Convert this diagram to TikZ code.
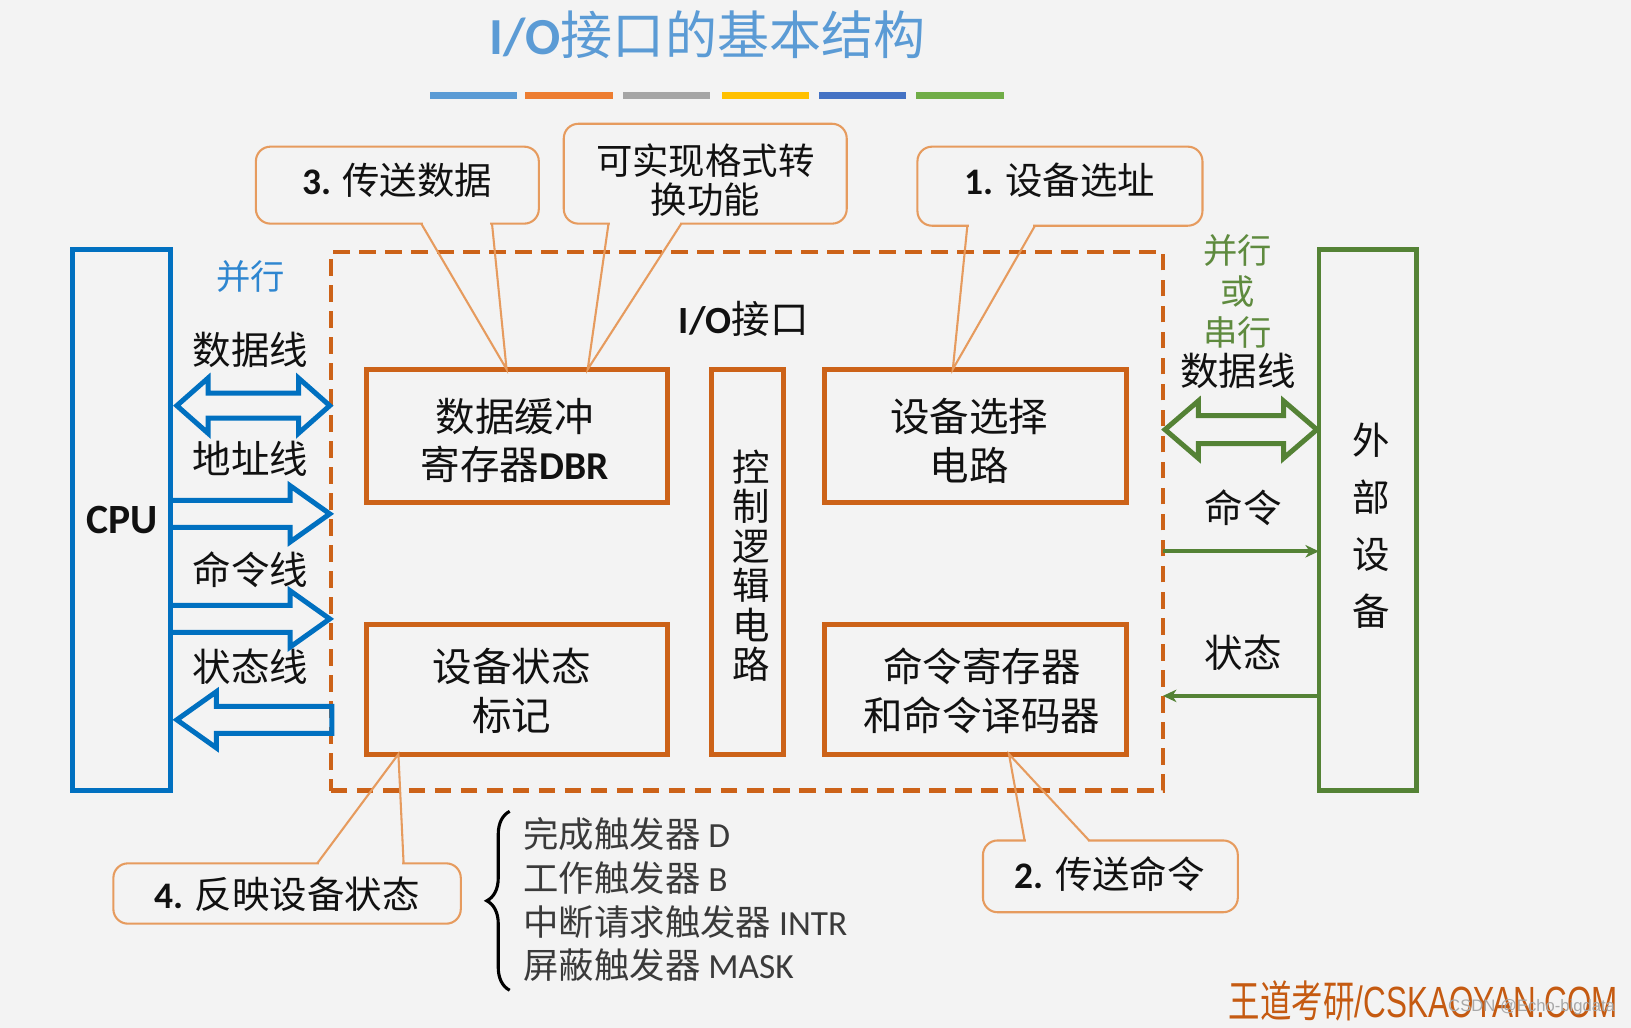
\documentclass[tikz,border=0pt]{standalone}
\usepackage{fontspec}
\setmainfont{Noto Sans CJK SC}
\newfontfamily\lat{Carlito}
\newfontfamily\wmfont[FakeStretch=0.72]{Liberation Sans}
\newfontfamily\wmcjk[FakeStretch=0.72]{Noto Sans CJK SC}
\newfontfamily\csdnfont{Liberation Sans}
\usetikzlibrary{arrows.meta,calc,decorations.pathreplacing}
\newcommand\fsz[2]{\fontsize{#1}{#2}\selectfont}
\definecolor{bgc}{HTML}{F3F3F3}
\definecolor{titlec}{HTML}{5B9BD5}
\definecolor{bar1}{HTML}{5B9BD5}
\definecolor{bar2}{HTML}{ED7D31}
\definecolor{bar3}{HTML}{A5A5A5}
\definecolor{bar4}{HTML}{FFC000}
\definecolor{bar5}{HTML}{4472C4}
\definecolor{bar6}{HTML}{70AD47}
\definecolor{cpublue}{HTML}{0070C0}
\definecolor{parblue}{HTML}{2E86D0}
\definecolor{orangeb}{HTML}{CC6218}
\definecolor{callc}{HTML}{E69B5E}
\definecolor{extgreen}{HTML}{548235}
\definecolor{pargreen}{HTML}{5E8A3E}
\definecolor{txt}{HTML}{111111}
\definecolor{listc}{HTML}{3A3A3A}
\definecolor{wmc}{HTML}{C55A11}
\definecolor{csdnc}{HTML}{A8A8A8}
\newcommand\callptr[5]{%
  \fill[bgc] ($(#1.#2)+(#3+1.5,-2.5)$) rectangle ($(#1.#2)+(#4-1.5,2.5)$);
  \draw[ptr] ($(#1.#2)+(#3,0)$) -- (#5) -- ($(#1.#2)+(#4,0)$);}
\begin{document}
\begin{tikzpicture}[x=0.5pt,y=-0.5pt,
  obox/.style={draw=orangeb, line width=2.4pt, inner sep=0pt, outer sep=0pt},
  bigbox/.style={line width=2.3pt, inner sep=0pt, outer sep=0pt, minimum width=47pt, minimum height=260pt},
  boxtxt/.style={align=center, text=txt, font=\fsz{19}{23.5}},
  lbl/.style={text=txt, font=\fsz{18.5}{20}},
  par/.style={font=\fsz{16.5}{18}},
  callout/.style={draw=callc, line width=1pt, rounded corners=7pt, fill=bgc, inner sep=0pt, outer sep=0pt},
  calltxt/.style={text=txt, font=\fsz{18}{19}, align=center},
  ptr/.style={draw=callc, line width=1pt, line join=miter},
  barrow/.style={draw=cpublue, line width=2.4pt, line join=miter},
  gbarrow/.style={draw=extgreen, line width=2.4pt, line join=miter},
  garrow/.style={draw=extgreen, line width=1.8pt, -{Stealth[length=6.5pt,width=6pt,inset=2pt]}},
  listtxt/.style={text=listc, font=\fsz{17}{21}, align=left, anchor=west, inner sep=0pt}
]
\fill[bgc] (0,0) rectangle (1568,988);
\useasboundingbox (0,0) rectangle (1568,988);

% title and colour bars
\node[text=titlec, font=\fsz{25}{30}] (title) at (680,33) {{\lat\bfseries I/O}接口的基本结构};
\foreach \x/\c in {413/bar1,505/bar2,599/bar3,694/bar4,787/bar5,881/bar6}
  \fill[\c] (\x,88) rectangle ++(84,7);

% I/O interface dashed frame
\node[draw=orangeb, line width=2pt, dash pattern=on 8pt off 4.5pt, minimum width=400pt, minimum height=259pt, inner sep=0pt, outer sep=0pt] (io) at (718,501) {};
\node[text=txt, font=\fsz{18.5}{20}] (iolbl) at (715,307) {{\lat\bfseries I/O}接口};

% CPU and external device
\node[bigbox, draw=cpublue, font=\lat\bfseries\fsz{20}{24}, text=txt] (cpu) at (117,500) {CPU};
\node[bigbox, draw=extgreen] (ext) at (1315,500) {};
\node[align=center, text=txt, font=\fsz{18}{27.5}] (exttxt) at (1318,505.5) {外\\部\\设\\备};

% inner boxes
\node[obox, minimum width=145pt, minimum height=64pt] (dbr) at (497,419) {};
\node[boxtxt] (dbrtxt) at (495,423.5) {数据缓冲\\寄存器{\lat\bfseries DBR}};
\node[obox, minimum width=34.5pt, minimum height=185pt] (ctrl) at (718.5,540) {};
\node[align=center, text=txt, font=\fsz{18}{19}] (ctrltxt) at (722,544) {控\\制\\逻\\辑\\电\\路};
\node[obox, minimum width=145pt, minimum height=64pt] (sel) at (938,419) {};
\node[boxtxt] (seltxt) at (932,423.5) {设备选择\\电路};
\node[obox, minimum width=145pt, minimum height=62.5pt] (stat) at (497,662.5) {};
\node[boxtxt] (stattxt) at (492,664.5) {设备状态\\标记};
\node[obox, minimum width=145pt, minimum height=62.5pt] (cmd) at (938,662.5) {};
\node[boxtxt] (cmdtxt) at (944,664.5) {命令寄存器\\和命令译码器};

% left labels and block arrows
\node[par, text=parblue] (lpar) at (241,266) {并行};
\node[lbl] (ldata) at (241,336) {数据线};
\node[lbl] (laddr) at (241,441) {地址线};
\node[lbl] (lcmd) at (241,548) {命令线};
\node[lbl] (lstat) at (241,641) {状态线};
\draw[barrow] (170,390) -- (200,363.5) -- (200,378) -- (287,378) -- (287,363.5) -- (317,390)
  -- (287,416.5) -- (287,402) -- (200,402) -- (200,416.5) -- cycle;
\draw[barrow] (165,481) -- (279,481) -- (279,467) -- (317,494) -- (279,521) -- (279,507) -- (165,507);
\draw[barrow] (165,582) -- (279,582) -- (279,568) -- (317,595) -- (279,622) -- (279,608) -- (165,608);
\draw[barrow] (319,679) -- (208,679) -- (208,665) -- (170,692) -- (208,719) -- (208,705) -- (319,705) -- cycle;

% right labels and arrows
\node[par, text=pargreen] (rpar1) at (1190,241) {并行};
\node[par, text=pargreen] (rpar2) at (1190,280) {或};
\node[par, text=pargreen] (rpar3) at (1190,320) {串行};
\node[lbl] (rdata) at (1190,357) {数据线};
\node[lbl] (rcmd) at (1195,488) {命令};
\node[lbl] (rstat) at (1195,628) {状态};
\draw[gbarrow] (1120,413) -- (1152,385.5) -- (1152,399.5) -- (1234,399.5) -- (1234,385.5) -- (1266,413)
  -- (1234,440.5) -- (1234,426.5) -- (1152,426.5) -- (1152,440.5) -- cycle;
\coordinate (ycmd) at (0,530);
\coordinate (ystat) at (0,669);
\draw[garrow] (io.east |- ycmd) -- (ext.west |- ycmd);
\draw[garrow] (ext.west |- ystat) -- (io.east |- ystat);

% callouts
\node[callout, minimum width=136pt, minimum height=37pt] (c3) at (382,178) {};
\node[calltxt] (c3t) at (382,173) {{\lat\bfseries 3.} 传送数据};
\callptr{c3}{south west}{159}{227}{$(dbr.north west)+(135,0)$}
\node[callout, minimum width=136pt, minimum height=48pt] (cf) at (678,167) {};
\node[calltxt, font=\fsz{17.5}{19}] (cft) at (678,173) {可实现格式转\\换功能};
\callptr{cf}{south west}{43}{113}{$(dbr.north west)+(213,0)$}
\node[callout, minimum width=137pt, minimum height=38pt] (c1) at (1019,179) {};
\node[calltxt] (c1t) at (1019,173) {{\lat\bfseries 1.} 设备选址};
\callptr{c1}{south west}{48}{113}{$(sel.north west)+(123,0)$}
\node[callout, minimum width=167pt, minimum height=29pt] (c4) at (276,859) {};
\node[calltxt] (c4t) at (276,860) {{\lat\bfseries 4.} 反映设备状态};
\callptr{c4}{north west}{196}{279}{$(stat.south west)+(31,0)$}
\node[callout, minimum width=122.5pt, minimum height=34.5pt] (c2) at (1067.5,842.5) {};
\node[calltxt] (c2t) at (1067,840) {{\lat\bfseries 2.} 传送命令};
\callptr{c2}{north west}{40}{102}{$(cmd.south west)+(177,0)$}

% trigger list with brace
\node[listtxt] (list) at (503,865) {完成触发器 {\lat D}\\工作触发器 {\lat B}\\中断请求触发器 {\lat INTR}\\屏蔽触发器 {\lat MASK}};
\draw[decorate, decoration={brace, amplitude=11pt}, line width=1.5pt, draw=black] (490,952) -- (490,780);

% watermarks
\node[anchor=east, text=wmc, font=\wmcjk\fsz{21}{24}, inner sep=0pt] (wm) at (1556,962) {王道考研{\wmfont/CSKAOYAN.COM}};
\node[anchor=east, text=csdnc, font=\csdnfont\fsz{8}{10}, inner sep=0pt] (csdn) at (1553,968) {CSDN @Echo-bigdata};
\end{tikzpicture}
\end{document}
